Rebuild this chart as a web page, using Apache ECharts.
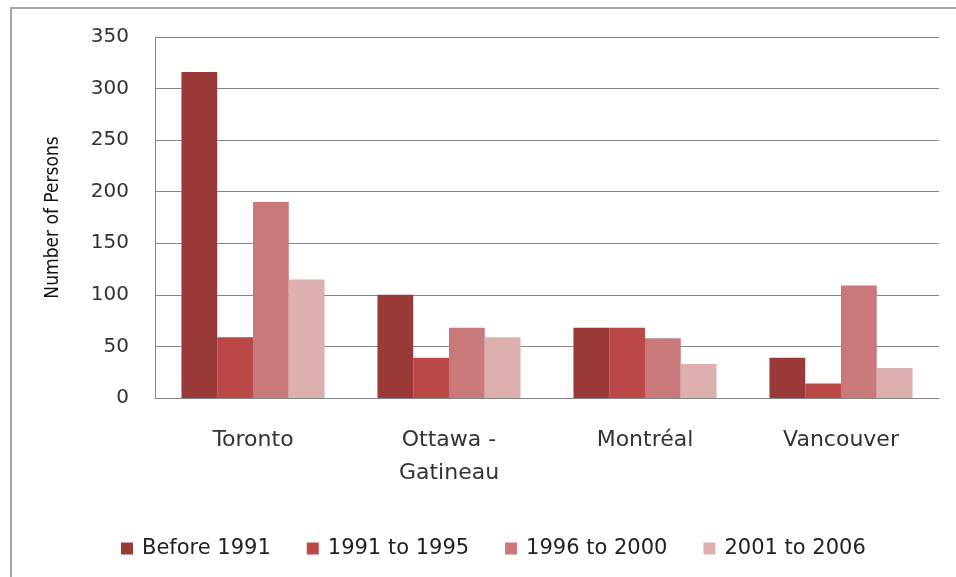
<!DOCTYPE html>
<html>
<head>
<meta charset="utf-8">
<script src="https://cdn.jsdelivr.net/npm/echarts@6/dist/echarts.min.js"></script>
<style>
  html, body { margin: 0; padding: 0; background: #fff; }
  #chart { width: 956px; height: 577px; }
</style>
</head>
<body>
<div id="chart"></div>
<script>
const cities = ['Toronto', 'Ottawa -\nGatineau', 'Montréal', 'Vancouver'];
const before1991 = [316, 100, 68, 39];
const from1991to1995 = [59, 39, 68, 14];
const from1996to2000 = [190, 68, 58, 109];
const from2001to2006 = [115, 59, 33, 29];
const seriesNames = ['Before 1991', '1991 to 1995', '1996 to 2000', '2001 to 2006'];
const colors = ['#993a38', '#b94847', '#c97979', '#ddb0b0'];

const chart = echarts.init(document.getElementById('chart'));
const font = '"DejaVu Sans", Verdana, sans-serif';

chart.setOption({
  color: colors,
  animation: false,
  textStyle: { fontFamily: font },
  grid: { left: 155, right: 17, top: 37, bottom: 179 },
  graphic: [
    {
      type: 'rect',
      shape: { x: 11, y: 8, width: 980, height: 600 },
      style: { fill: 'none', stroke: '#a6a6a6', lineWidth: 2 },
      silent: true
    }
  ],
  legend: {
    data: seriesNames,
    top: 533,
    left: 116,
    itemWidth: 12,
    itemHeight: 12,
    itemGap: 36,
    icon: 'rect',
    textStyle: { fontSize: 21, color: '#222', fontFamily: font, padding: [0, 0, 0, 4] }
  },
  xAxis: {
    type: 'category',
    data: cities,
    axisLine: { lineStyle: { color: '#868686', width: 1 } },
    axisTick: { show: false },
    axisLabel: { fontSize: 22, color: '#333', margin: 26, lineHeight: 33, fontFamily: font }
  },
  yAxis: {
    type: 'value',
    min: 0,
    max: 350,
    interval: 50,
    name: 'Number of Persons',
    nameLocation: 'middle',
    nameGap: 92,
    nameTextStyle: { fontSize: 19, color: '#111', fontFamily: '"DejaVu Sans Condensed", sans-serif' },
    axisLine: { show: true, lineStyle: { color: '#868686', width: 1 } },
    axisTick: { show: false },
    splitLine: { lineStyle: { color: '#868686', width: 1 } },
    axisLabel: { fontSize: 20, color: '#333', margin: 26, fontFamily: font }
  },
  series: [
    { name: seriesNames[0], type: 'bar', data: before1991, barGap: '0%', barCategoryGap: '27%' },
    { name: seriesNames[1], type: 'bar', data: from1991to1995, barGap: '0%', barCategoryGap: '27%' },
    { name: seriesNames[2], type: 'bar', data: from1996to2000, barGap: '0%', barCategoryGap: '27%' },
    { name: seriesNames[3], type: 'bar', data: from2001to2006, barGap: '0%', barCategoryGap: '27%' }
  ]
});
</script>
</body>
</html>
